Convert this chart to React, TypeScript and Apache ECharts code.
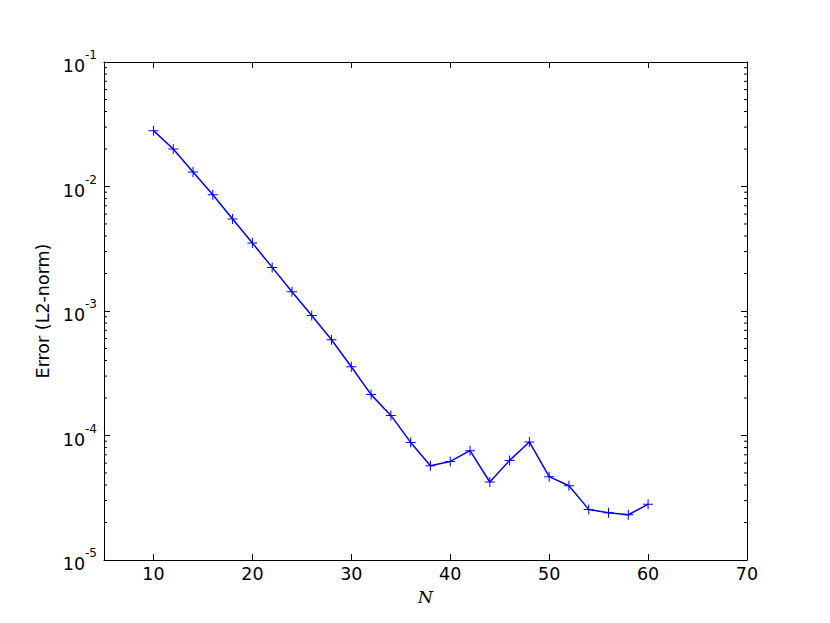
import React, { useEffect, useRef } from "react";
import * as echarts from "echarts";

const nValues = [10, 12, 14, 16, 18, 20, 22, 24, 26, 28, 30, 32, 34, 36, 38, 40, 42, 44, 46, 48, 50, 52, 54, 56, 58, 60];
const errorValues = [
  2.81e-2, 2.0e-2, 1.31e-2, 8.6e-3, 5.48e-3, 3.52e-3, 2.24e-3, 1.43e-3, 9.2e-4, 5.88e-4,
  3.57e-4, 2.13e-4, 1.45e-4, 8.8e-5, 5.72e-5, 6.19e-5, 7.55e-5, 4.23e-5, 6.31e-5, 8.87e-5,
  4.67e-5, 3.95e-5, 2.55e-5, 2.4e-5, 2.31e-5, 2.8e-5,
];
const xTickValues = [10, 20, 30, 40, 50, 60, 70];
const xMin = 5;
const xMax = 70;
const yMin = 1e-5;
const yMax = 1e-1;
const minorFactors = [2, 3, 4, 5, 6, 7, 8, 9];
const minorDecades = [1e-5, 1e-4, 1e-3, 1e-2];

const FONT = "DejaVu Sans";
const FS = 17.5;

export default function App() {
  const ref = useRef<HTMLDivElement>(null);
  useEffect(() => {
    if (!ref.current) return;
    const chart = echarts.init(ref.current, null, { renderer: "svg" });
    const minorData: number[][] = [];
    minorDecades.forEach((d) => minorFactors.forEach((f) => minorData.push([xMin, f * d])));
    const axisLineStyle = { color: "#000", width: 1 };
    chart.setOption({
      animation: false,
      backgroundColor: "#fff",
      grid: { left: 104, top: 62, width: 643, height: 498, containLabel: false },
      xAxis: [
        {
          type: "value",
          min: xMin,
          max: xMax,
          position: "bottom",
          name: "N",
          nameLocation: "middle",
          nameGap: 23,
          nameTextStyle: { fontFamily: "DejaVu Serif", fontStyle: "italic", fontSize: FS, color: "#000" },
          axisLine: { show: true, onZero: false, lineStyle: axisLineStyle },
          axisTick: { show: true, inside: true, length: 6, lineStyle: { color: "#000" }, customValues: xTickValues },
          axisLabel: { show: true, customValues: xTickValues, fontFamily: FONT, fontSize: FS, color: "#000", margin: 5 },
          splitLine: { show: false },
        },
        {
          type: "value",
          min: xMin,
          max: xMax,
          position: "top",
          axisLine: { show: true, onZero: false, lineStyle: axisLineStyle },
          axisTick: { show: true, inside: true, length: 6, lineStyle: { color: "#000" }, customValues: xTickValues },
          axisLabel: { show: false },
          splitLine: { show: false },
        },
      ],
      yAxis: [
        {
          type: "log",
          logBase: 10,
          min: yMin,
          max: yMax,
          position: "left",
          name: "Error (L2-norm)",
          nameLocation: "middle",
          nameGap: 46,
          nameTextStyle: { fontFamily: FONT, fontSize: FS, color: "#000" },
          axisLine: { show: true, onZero: false, lineStyle: axisLineStyle },
          axisTick: { show: true, inside: true, length: 6, lineStyle: { color: "#000" } },
          axisLabel: {
            show: true,
            margin: 7,
            formatter: (v: number) => `{b|10}{s|${Math.round(Math.log10(v))}}`,
            rich: {
              b: { fontFamily: FONT, fontSize: FS, color: "#000", lineHeight: 26, verticalAlign: "bottom" },
              s: { fontFamily: FONT, fontSize: 12, color: "#000", lineHeight: 26, verticalAlign: "top" },
            },
          },
          splitLine: { show: false },
        },
        {
          type: "log",
          logBase: 10,
          min: yMin,
          max: yMax,
          position: "right",
          axisLine: { show: true, onZero: false, lineStyle: axisLineStyle },
          axisTick: { show: true, inside: true, length: 6, lineStyle: { color: "#000" } },
          axisLabel: { show: false },
          splitLine: { show: false },
        },
      ],
      series: [
        {
          type: "custom",
          xAxisIndex: 0,
          yAxisIndex: 0,
          silent: true,
          clip: false,
          data: minorData,
          renderItem: (params: any, api: any) => {
            const v = api.value(1);
            const pl = api.coord([xMin, v]);
            const pr = api.coord([xMax, v]);
            return {
              type: "group",
              children: [
                { type: "line", shape: { x1: pl[0], y1: pl[1], x2: pl[0] + 3, y2: pl[1] }, style: { stroke: "#000", lineWidth: 1 } },
                { type: "line", shape: { x1: pr[0] - 3, y1: pr[1], x2: pr[0], y2: pr[1] }, style: { stroke: "#000", lineWidth: 1 } },
              ],
            };
          },
        },
        {
          type: "line",
          xAxisIndex: 0,
          yAxisIndex: 0,
          data: nValues.map((n, i) => [n, errorValues[i]]),
          lineStyle: { color: "#0000ff", width: 1.5 },
          symbol: "path://M4.5,0H5.5V4.5H10V5.5H5.5V10H4.5V5.5H0V4.5H4.5Z",
          symbolSize: 10,
          itemStyle: { color: "#0000ff" },
          showSymbol: true,
        },
      ],
    });
    return () => chart.dispose();
  }, []);
  return <div ref={ref} style={{ width: 830, height: 623, position: "absolute", left: 0, top: 0 }} />;
}
